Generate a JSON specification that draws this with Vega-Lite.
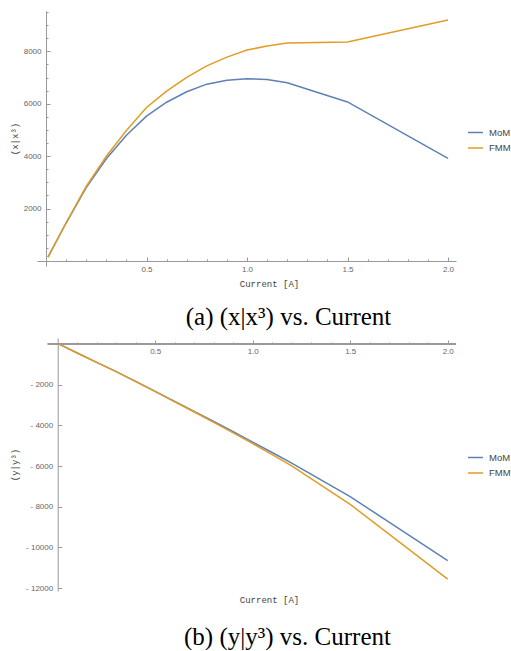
{
  "$schema": "https://vega.github.io/schema/vega-lite/v6.json",
  "padding": {"left": 10, "top": 8, "right": 0, "bottom": 0},
  "datasets": {
    "top": [
      {"current": 0.01, "method": "MoM", "value": 150},
      {"current": 0.1, "method": "MoM", "value": 1450},
      {"current": 0.2, "method": "MoM", "value": 2800},
      {"current": 0.3, "method": "MoM", "value": 3900},
      {"current": 0.4, "method": "MoM", "value": 4800},
      {"current": 0.5, "method": "MoM", "value": 5530},
      {"current": 0.6, "method": "MoM", "value": 6060},
      {"current": 0.7, "method": "MoM", "value": 6460},
      {"current": 0.8, "method": "MoM", "value": 6750},
      {"current": 0.9, "method": "MoM", "value": 6900},
      {"current": 1.0, "method": "MoM", "value": 6960},
      {"current": 1.1, "method": "MoM", "value": 6930},
      {"current": 1.2, "method": "MoM", "value": 6800},
      {"current": 1.5, "method": "MoM", "value": 6070},
      {"current": 2.0, "method": "MoM", "value": 3920},
      {"current": 0.01, "method": "FMM", "value": 150},
      {"current": 0.1, "method": "FMM", "value": 1460},
      {"current": 0.2, "method": "FMM", "value": 2850},
      {"current": 0.3, "method": "FMM", "value": 4000},
      {"current": 0.4, "method": "FMM", "value": 4980},
      {"current": 0.5, "method": "FMM", "value": 5860},
      {"current": 0.6, "method": "FMM", "value": 6480},
      {"current": 0.7, "method": "FMM", "value": 7010},
      {"current": 0.8, "method": "FMM", "value": 7450},
      {"current": 0.9, "method": "FMM", "value": 7780},
      {"current": 1.0, "method": "FMM", "value": 8050},
      {"current": 1.1, "method": "FMM", "value": 8210},
      {"current": 1.2, "method": "FMM", "value": 8320},
      {"current": 1.5, "method": "FMM", "value": 8360},
      {"current": 2.0, "method": "FMM", "value": 9200}
    ],
    "bot": [
      {"current": 0.01, "method": "MoM", "value": -20},
      {"current": 0.1, "method": "MoM", "value": -440},
      {"current": 0.2, "method": "MoM", "value": -900},
      {"current": 0.3, "method": "MoM", "value": -1360},
      {"current": 0.4, "method": "MoM", "value": -1840},
      {"current": 0.5, "method": "MoM", "value": -2330},
      {"current": 0.6, "method": "MoM", "value": -2820},
      {"current": 0.7, "method": "MoM", "value": -3310},
      {"current": 0.8, "method": "MoM", "value": -3810},
      {"current": 0.9, "method": "MoM", "value": -4310},
      {"current": 1.0, "method": "MoM", "value": -4820},
      {"current": 1.1, "method": "MoM", "value": -5330},
      {"current": 1.2, "method": "MoM", "value": -5850},
      {"current": 1.5, "method": "MoM", "value": -7500},
      {"current": 2.0, "method": "MoM", "value": -10650},
      {"current": 0.01, "method": "FMM", "value": -20},
      {"current": 0.1, "method": "FMM", "value": -440},
      {"current": 0.2, "method": "FMM", "value": -900},
      {"current": 0.3, "method": "FMM", "value": -1360},
      {"current": 0.4, "method": "FMM", "value": -1850},
      {"current": 0.5, "method": "FMM", "value": -2340},
      {"current": 0.6, "method": "FMM", "value": -2840},
      {"current": 0.7, "method": "FMM", "value": -3340},
      {"current": 0.8, "method": "FMM", "value": -3850},
      {"current": 0.9, "method": "FMM", "value": -4370},
      {"current": 1.0, "method": "FMM", "value": -4900},
      {"current": 1.1, "method": "FMM", "value": -5440},
      {"current": 1.2, "method": "FMM", "value": -5990},
      {"current": 1.5, "method": "FMM", "value": -7880},
      {"current": 2.0, "method": "FMM", "value": -11550}
    ]
  },
  "columns": 1,
  "spacing": 8,
  "resolve": {"legend": {"color": "independent"}, "scale": {"color": "independent"}},
  "concat": [
    {
      "width": 419,
      "height": 255,
      "data": {"name": "top"},
      "title": {"text": "(a) (x|x³) vs. Current", "orient": "bottom", "anchor": "middle", "dx": 42, "offset": 17, "font": "Liberation Serif", "fontSize": 25, "fontWeight": "normal", "color": "#000"},
      "mark": {"type": "line", "strokeWidth": 1.5},
      "encoding": {
        "x": {"field": "current", "type": "quantitative",
          "scale": {"domain": [-0.0448, 2.0398], "nice": false, "zero": false},
          "axis": {"orient": "bottom", "offset": -5, "title": "Current [A]", "titleX": 232, "titlePadding": 4,
            "values": [0.1,0.2,0.3,0.4,0.5,0.6,0.7,0.8,0.9,1.0,1.1,1.2,1.3,1.4,1.5,1.6,1.7,1.8,1.9,2.0],
            "tickSize": {"condition": {"test": "datum.value % 0.5 === 0", "value": -4}, "value": -2},
            "labelPadding": 8, "labelOverlap": false, "labelBound": false, "labelFlush": false,
            "labelExpr": "datum.value % 0.5 === 0 ? format(datum.value, '.1f') : ''"}},
        "y": {"field": "value", "type": "quantitative",
          "scale": {"domain": [-191, 9542], "nice": false, "zero": false},
          "axis": {"orient": "left", "offset": -9, "title": "(x|x³)", "titlePadding": 4,
            "values": [500,1000,1500,2000,2500,3000,3500,4000,4500,5000,5500,6000,6500,7000,7500,8000,8500,9000,9500],
            "tickSize": {"condition": {"test": "datum.value % 2000 === 0", "value": -4}, "value": -2},
            "labelPadding": 9, "labelOverlap": false, "labelBound": false, "labelFlush": false,
            "labelExpr": "datum.value % 2000 === 0 ? format(datum.value, 'd') : ''"}},
        "color": {"field": "method", "type": "nominal",
          "scale": {"domain": ["MoM", "FMM"], "range": ["#5E81B5", "#E19C24"]},
          "legend": {"title": null, "orient": "none", "legendX": 430, "legendY": 113}}
      }
    },
    {
      "width": 419,
      "height": 253,
      "data": {"name": "bot"},
      "title": {"text": "(b) (y|y³) vs. Current", "orient": "bottom", "anchor": "middle", "dx": 41, "offset": 21, "font": "Liberation Serif", "fontSize": 25, "fontWeight": "normal", "color": "#000"},
      "resolve": {"axis": {"x": "independent"}},
      "layer": [
        {
          "mark": {"type": "rule", "color": "#999999", "strokeWidth": 1},
          "encoding": {
            "x": {"datum": -0.05, "type": "quantitative",
              "scale": {"domain": [-0.1062, 2.0426], "nice": false, "zero": false},
              "axis": {"orient": "top", "offset": -6, "title": null, "domain": false,
                "values": [0.1,0.2,0.3,0.4,0.5,0.6,0.7,0.8,0.9,1.0,1.1,1.2,1.3,1.4,1.5,1.6,1.7,1.8,1.9,2.0],
                "tickSize": {"condition": {"test": "datum.value % 0.5 === 0", "value": 4}, "value": 2},
                "labelPadding": -7, "labelBaseline": "top", "labelOverlap": false, "labelBound": false, "labelFlush": false,
                "labelExpr": "datum.value % 0.5 === 0 ? format(datum.value, '.1f') : ''"}},
            "x2": {"datum": 2.0426},
            "y": {"datum": 0, "type": "quantitative",
              "scale": {"domain": [-12138, 295], "nice": false, "zero": false},
              "axis": {"orient": "left", "offset": -20.7, "title": "(y|y³)", "titlePadding": 6,
                "values": [-500,-1000,-1500,-2000,-2500,-3000,-3500,-4000,-4500,-5000,-5500,-6000,-6500,-7000,-7500,-8000,-8500,-9000,-9500,-10000,-10500,-11000,-11500,-12000],
                "tickSize": {"condition": {"test": "datum.value % 2000 === 0", "value": -4}, "value": -2},
                "labelPadding": 9, "labelOverlap": false, "labelBound": false, "labelFlush": false,
                "labelExpr": "datum.value % 2000 === 0 ? '- ' + format(abs(datum.value), 'd') : ''"}}
          }
        },
        {
          "mark": {"type": "line", "strokeWidth": 1.5},
          "encoding": {
            "x": {"field": "current", "type": "quantitative", "axis": null},
            "y": {"field": "value", "type": "quantitative"},
            "color": {"field": "method", "type": "nominal",
              "scale": {"domain": ["MoM", "FMM"], "range": ["#5E81B5", "#E19C24"]},
              "legend": {"title": null, "orient": "none", "legendX": 430, "legendY": 111}}
          }
        },
        {
          "mark": {"type": "line", "opacity": 0},
          "encoding": {
            "x": {"field": "current", "type": "quantitative",
              "axis": {"orient": "bottom", "title": "Current [A]", "titleX": 232, "titlePadding": 4, "domain": false, "ticks": false, "labels": false}},
            "y": {"field": "value", "type": "quantitative"},
            "detail": {"field": "method", "type": "nominal"}
          }
        }
      ]
    }
  ],
  "config": {
    "view": {"stroke": null},
    "axis": {"grid": false, "minExtent": 0, "domainColor": "#999999", "tickColor": "#999999", "domainWidth": 1, "tickWidth": 1,
      "labelFont": "Liberation Sans", "labelFontSize": 8, "labelColor": "#666666",
      "titleFont": "Liberation Mono", "titleFontSize": 9, "titleFontWeight": "normal", "titleColor": "#444444"},
    "legend": {"labelFont": "Liberation Sans", "labelFontSize": 9.5, "labelColor": "#444444", "symbolType": "stroke",
      "symbolSize": 225, "symbolStrokeWidth": 1.5, "rowPadding": 2.5, "labelOffset": 5}
  }
}
